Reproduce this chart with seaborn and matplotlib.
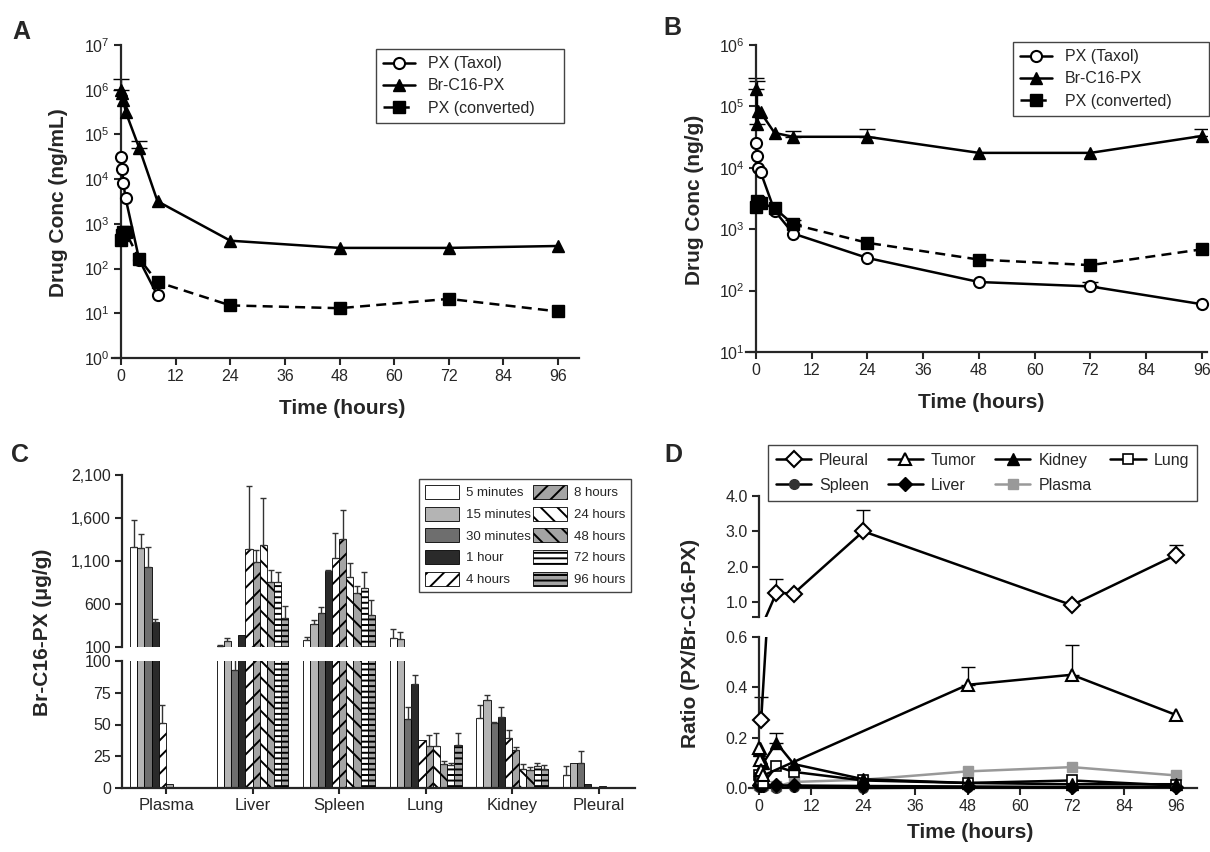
import matplotlib
matplotlib.use("Agg")
import numpy as np
import pandas as pd
import matplotlib.pyplot as plt
import seaborn as sns
from matplotlib.lines import Line2D
from matplotlib.patches import Patch
from matplotlib.container import BarContainer
from matplotlib.ticker import FixedLocator, NullLocator, FuncFormatter

# -------------------------------
# data
# -------------------------------
hours = [0.083, 0.25, 0.5, 1, 4, 8, 24, 48, 72, 96]

# A: plasma, ng/mL
a_taxol = [3.2e4, 1.7e4, 8.0e3, 3.7e3, 155, 25]          # first 6 time points
a_br = [1.0e6, 8.3e5, 6.0e5, 3.2e5, 4.9e4, 3.2e3, 420, 290, 290, 320]
a_conv = [430, 550, 650, 650, 165, 50, 15, 13, 21, 11]
a_br_err_t = [0.083, 4]
a_br_err_top = [1.7e6, 7.3e4]

# B: tumor, ng/g
b_taxol = [2.5e4, 1.55e4, 1.0e4, 8.5e3, 2.0e3, 850, 340, 138, 117, 60]
b_br = [1.9e5, 5.2e4, 8.3e4, 8.0e4, 3.7e4, 3.2e4, 3.2e4, 1.75e4, 1.75e4, 3.3e4]
b_conv = [2.3e3, 2.9e3, 2.8e3, 2.7e3, 2.2e3, 1.2e3, 600, 320, 260, 470]
b_br_err_t = [0.083, 0.25, 8, 24, 96]
b_br_err_top = [2.9e5, 2.6e5, 4.0e4, 4.3e4, 4.3e4]
b_conv_err_t = [8]
b_conv_err_top = [1.4e3]
b_taxol_err_t = [72]
b_taxol_err_top = [140]

# C: tissue Br-C16-PX, ug/g
organs = ["Plasma", "Liver", "Spleen", "Lung", "Kidney", "Pleural"]
timepoints = ["5 minutes", "15 minutes", "30 minutes", "1 hour", "4 hours",
              "8 hours", "24 hours", "48 hours", "72 hours", "96 hours"]
c_plasma = [1268, 1249, 1025, 386, 51, 3.2, 0, 0, 0, 0]
c_liver = [110, 166, 93, 243, 1241, 1094, 1288, 858, 858, 440]
c_spleen = [177, 371, 498, 978, 1133, 1357, 912, 727, 785, 475]
c_lung = [208, 197, 54, 82, 38, 33, 33, 19, 18, 34]
c_kidney = [55, 69, 51, 56, 39, 30, 15, 14, 17, 15]
c_pleural = [10, 20, 20, 3.5, 0, 1.5, 0, 0, 0, 0]
# top of the error bars (0 = none drawn)
c_plasma_err = [1580, 1415, 1268, 421, 65, 0, 0, 0, 0, 0]
c_liver_err = [125, 208, 105, 0, 1976, 1230, 1829, 1001, 967, 576]
c_spleen_err = [216, 409, 564, 997, 1423, 1694, 1079, 808, 967, 642]
c_lung_err = [313, 270, 64, 89, 0, 42, 43, 21.5, 20, 43]
c_kidney_err = [65, 73, 52, 64, 46, 32, 19, 16.7, 20, 18]
c_pleural_err = [17.5, 0, 28.8, 0, 0, 0, 0, 0, 0, 0]

# D: ratio PX / Br-C16-PX
d_pleural_t = [0.5, 4, 8, 24, 72, 96]
d_pleural = [0.27, 1.26, 1.24, 3.0, 0.91, 2.33]
d_pleural_err_t = [0.5, 4, 24, 96]
d_pleural_err_top = [0.36, 1.65, 3.6, 2.6]
d_tumor_t = [0.083, 0.25, 0.5, 1, 48, 72, 96]
d_tumor = [0.16, 0.11, 0.07, 0.05, 0.41, 0.45, 0.29]
d_tumor_err_t = [48, 72]
d_tumor_err_top = [0.48, 0.57]
d_kidney = [0.15, 0.16, 0.12, 0.10, 0.18, 0.095, 0.035, 0.02, 0.015, 0.015]
d_kidney_err_t = [4]
d_kidney_err_top = [0.22]
d_lung = [0.05, 0.04, 0.03, 0.02, 0.086, 0.064, 0.03, 0.02, 0.03, 0.01]
d_spleen = [0.005, 0.005, 0.003, 0.003, 0.0, 0.004, 0.0, 0.002, 0.002, 0.005]
d_liver = [0.01, 0.015, 0.01, 0.01, 0.01, 0.01, 0.008, 0.006, 0.004, 0.004]
d_plasma = [0.01, 0.01, 0.015, 0.01, 0.007, 0.024, 0.033, 0.066, 0.083, 0.05]

# -------------------------------
# style
# -------------------------------
sns.set_style("ticks")
plt.rcParams["font.family"] = ["Liberation Sans", "DejaVu Sans"]
plt.rcParams["mathtext.fontset"] = "custom"
plt.rcParams["mathtext.rm"] = "Liberation Sans"
plt.rcParams["mathtext.default"] = "regular"
plt.rcParams["hatch.linewidth"] = 1.4
plt.rcParams["hatch.color"] = "black"

W, H = 1210, 852
fig = plt.figure(figsize=(W / 100, H / 100), dpi=100)


def add_ax(l, t, r, b):
    return fig.add_axes([l / W, 1 - b / H, (r - l) / W, (b - t) / H])


def style(ax):
    for s in ["top", "right"]:
        ax.spines[s].set_visible(False)
    for s in ["left", "bottom"]:
        ax.spines[s].set_linewidth(1.6)
    ax.tick_params(width=1.5, length=5, labelsize=11.5, direction="out", pad=3)


def up_err(ax, x, y, top, cap=6, **kw):
    y = np.asarray(y, float)
    top = np.asarray(top, float)
    ax.errorbar(x, y, yerr=[np.zeros_like(y), top - y], fmt="none",
                ecolor=kw.get("color", "black"), elinewidth=1, capsize=cap,
                capthick=1, zorder=2)


def lookup(ts, vals, sel):
    d = dict(zip(ts, vals))
    return [d[t] for t in sel]


circle = dict(marker="o", markersize=8, markerfacecolor="white",
              markeredgecolor="black", markeredgewidth=1.5)
tri = dict(marker="^", markersize=9, markerfacecolor="black",
           markeredgecolor="black", markeredgewidth=1)
square = dict(marker="s", markersize=8, markerfacecolor="black",
              markeredgecolor="black", markeredgewidth=1)
dash = (0, (4, 2.5))


def pk_panel(ax, taxol, br, conv):
    sns.lineplot(x=hours[:len(taxol)], y=taxol, ax=ax, color="black", lw=1.8,
                 clip_on=False, zorder=3, **circle)
    sns.lineplot(x=hours, y=br, ax=ax, color="black", lw=1.8,
                 clip_on=False, zorder=3, **tri)
    sns.lineplot(x=hours, y=conv, ax=ax, color="black", lw=1.8,
                 linestyle=dash, clip_on=False, zorder=3, **square)


def pk_legend(ax, l, t, r, b):
    handles = [
        Line2D([], [], color="black", lw=1.8, **circle),
        Line2D([], [], color="black", lw=1.8, **tri),
        Line2D([], [], color="black", lw=1.8, linestyle=dash, **square),
    ]
    labels = ["PX (Taxol)", "Br-C16-PX", "PX (converted)"]
    leg = ax.legend(handles, labels, loc="upper left",
                    bbox_to_anchor=(l / W, 1 - b / H, (r - l) / W, (b - t) / H),
                    bbox_transform=fig.transFigure, mode="expand",
                    borderaxespad=0, fontsize=11.5, handlelength=2.0,
                    labelspacing=0.45, borderpad=0.45, fancybox=False,
                    framealpha=1)
    leg.get_frame().set_edgecolor("#444444")
    leg.get_frame().set_linewidth(1.0)


# -------------------------------
# Panel A
# -------------------------------
axA = add_ax(112, 45, 579, 358)
axA.set_yscale("log")
pk_panel(axA, a_taxol, a_br, a_conv)
up_err(axA, a_br_err_t, lookup(hours, a_br, a_br_err_t), a_br_err_top)
axA.set_xlim(-2, 100.6)
axA.set_ylim(1, 1e7)
axA.set_yticks([10.0 ** k for k in range(8)])
axA.yaxis.set_minor_locator(NullLocator())
axA.set_xticks(range(0, 97, 12))
axA.spines["left"].set_position(("data", 0))
style(axA)
axA.set_xlabel("")
axA.set_ylabel("")
pk_legend(axA, 376, 49, 564, 128)

# -------------------------------
# Panel B
# -------------------------------
axB = add_ax(746, 45, 1207, 352)
axB.set_yscale("log")
pk_panel(axB, b_taxol, b_br, b_conv)
up_err(axB, b_br_err_t, lookup(hours, b_br, b_br_err_t), b_br_err_top)
up_err(axB, b_conv_err_t, lookup(hours, b_conv, b_conv_err_t), b_conv_err_top)
up_err(axB, b_taxol_err_t, lookup(hours, b_taxol, b_taxol_err_t), b_taxol_err_top)
axB.set_xlim(-2.15, 97.1)
axB.set_ylim(10, 1e6)
axB.set_yticks([10.0 ** k for k in range(1, 7)])
axB.yaxis.set_minor_locator(NullLocator())
axB.set_xticks(range(0, 97, 12))
axB.spines["left"].set_position(("data", 0))
style(axB)
axB.set_xlabel("")
axB.set_ylabel("")
pk_legend(axB, 1013, 42, 1209, 121)

# -------------------------------
# Panel C: broken-axis grouped bars
# -------------------------------
c_vals = [c_plasma, c_liver, c_spleen, c_lung, c_kidney, c_pleural]
c_errs = [c_plasma_err, c_liver_err, c_spleen_err, c_lung_err, c_kidney_err, c_pleural_err]
rows = []
for org, vals in zip(organs, c_vals):
    for tp, v in zip(timepoints, vals):
        rows.append({"organ": org, "time": tp, "value": v})
dfC = pd.DataFrame(rows)

c_colors = ["white", "#b4b4b4", "#6e6e6e", "#2a2a2a", "white",
            "#a4a4a4", "white", "#a4a4a4", "white", "#a4a4a4"]
c_hatch = [None, None, None, None, "//", "//", "\\\\", "\\\\", "---", "---"]

axCu = add_ax(122, 475, 635, 647)
axCl = add_ax(122, 661, 635, 788)
for ax in (axCu, axCl):
    sns.barplot(data=dfC, x="organ", y="value", hue="time", order=organs,
                hue_order=timepoints, palette=c_colors, saturation=1,
                width=0.83, errorbar=None, edgecolor="black", linewidth=0.6,
                legend=False, ax=ax)
    for i, cont in enumerate(ax.containers):
        for p in cont.patches:
            if c_hatch[i]:
                p.set_hatch(c_hatch[i])
    ax.set_xlim(-0.509, 5.42)
    ax.set_xlabel("")
    ax.set_ylabel("")
    style(ax)

# error bars placed on whichever segment holds the bar top
bar_conts = [c for c in axCl.containers if isinstance(c, BarContainer)]
for i, cont in enumerate(bar_conts):
    for j, p in enumerate(cont.patches):
        top = c_errs[j][i]
        h = p.get_height()
        if top > h:
            x = p.get_x() + p.get_width() / 2
            ax = axCu if h > 100 else axCl
            up_err(ax, [x], [h], [top], cap=2, color="#333333")

axCu.set_ylim(100, 2100)
axCu.set_yticks([100, 600, 1100, 1600, 2100])
axCu.yaxis.set_major_formatter(FuncFormatter(lambda v, p: f"{int(v):,}"))
axCu.spines["bottom"].set_visible(False)
axCu.xaxis.set_visible(False)
axCl.set_ylim(0, 100)
axCl.set_yticks([0, 25, 50, 75, 100])
axCl.tick_params(axis="x", length=4, labelsize=12)

leg_handles = [Patch(facecolor=c, edgecolor="black", hatch=h, lw=0.6)
               for c, h in zip(c_colors, c_hatch)]
legC = axCu.legend(leg_handles, timepoints, loc="upper left", ncol=2,
                   bbox_to_anchor=(419 / W, 1 - 596 / H, 212 / W, 117 / H),
                   bbox_transform=fig.transFigure, mode="expand",
                   borderaxespad=0, fontsize=9.5, handlelength=2.6,
                   handleheight=1.25, labelspacing=0.55, borderpad=0.45,
                   columnspacing=0.6, handletextpad=0.5, fancybox=False,
                   framealpha=1)
legC.get_frame().set_edgecolor("#444444")
legC.get_frame().set_linewidth(1.0)

# -------------------------------
# Panel D: broken-axis ratio plot
# -------------------------------
axDu = add_ax(749, 496, 1197, 617)
axDl = add_ax(749, 637, 1197, 788)

diamond_o = dict(marker="D", markersize=8, markerfacecolor="white",
                 markeredgecolor="black", markeredgewidth=1.5)
tri_o = dict(marker="^", markersize=9, markerfacecolor="white",
             markeredgecolor="black", markeredgewidth=1.5)
tri_f = dict(marker="^", markersize=8, markerfacecolor="black",
             markeredgecolor="black", markeredgewidth=1)
sq_o = dict(marker="s", markersize=7, markerfacecolor="white",
            markeredgecolor="black", markeredgewidth=1.2)
circ_f = dict(marker="o", markersize=7, markerfacecolor="#333333",
              markeredgecolor="#333333", markeredgewidth=1)
dia_f = dict(marker="D", markersize=7, markerfacecolor="black",
             markeredgecolor="black", markeredgewidth=1)
sq_g = dict(marker="s", markersize=7, markerfacecolor="#999999",
            markeredgecolor="#999999", markeredgewidth=1)

for ax in (axDu, axDl):
    sns.lineplot(x=d_pleural_t, y=d_pleural, ax=ax, color="black", lw=1.8,
                 zorder=4, **diamond_o)

sns.lineplot(x=hours, y=d_plasma, ax=axDl, color="#999999", lw=1.8,
             clip_on=False, zorder=3, **sq_g)
sns.lineplot(x=hours, y=d_spleen, ax=axDl, color="black", lw=1.8,
             clip_on=False, zorder=3, **circ_f)
sns.lineplot(x=hours, y=d_liver, ax=axDl, color="black", lw=1.8,
             clip_on=False, zorder=3, **dia_f)
sns.lineplot(x=hours, y=d_lung, ax=axDl, color="black", lw=1.8,
             clip_on=False, zorder=3, **sq_o)
sns.lineplot(x=hours, y=d_kidney, ax=axDl, color="black", lw=1.8,
             clip_on=False, zorder=3, **tri_f)
sns.lineplot(x=d_tumor_t, y=d_tumor, ax=axDl, color="black", lw=1.8,
             clip_on=False, zorder=3, **tri_o)

for ax, lo, hi in ((axDu, 0.575, 4.0), (axDl, 0.0, 0.6)):
    sel = [t for t, v in zip(d_pleural_err_t, lookup(d_pleural_t, d_pleural, d_pleural_err_t))
           if lo <= v <= hi]
    if sel:
        up_err(ax, sel, lookup(d_pleural_t, d_pleural, sel),
               lookup(d_pleural_err_t, d_pleural_err_top, sel), cap=5)
up_err(axDl, d_tumor_err_t, lookup(d_tumor_t, d_tumor, d_tumor_err_t), d_tumor_err_top, cap=5)
up_err(axDl, d_kidney_err_t, lookup(hours, d_kidney, d_kidney_err_t), d_kidney_err_top, cap=5)

for ax in (axDu, axDl):
    ax.set_xlim(-2.3, 100.8)
    ax.spines["left"].set_position(("data", 0))
    ax.set_xlabel("")
    ax.set_ylabel("")
    style(ax)

axDu.set_ylim(0.575, 4.0)
axDu.set_yticks([1.0, 2.0, 3.0, 4.0])
axDu.yaxis.set_minor_locator(FixedLocator([0.575]))
axDu.tick_params(which="minor", length=5, width=1.5)
axDu.yaxis.set_major_formatter(FuncFormatter(lambda v, p: f"{v:.1f}"))
axDu.spines["bottom"].set_visible(False)
axDu.xaxis.set_visible(False)
axDl.set_ylim(0, 0.6)
axDl.set_yticks([0.0, 0.2, 0.4, 0.6])
axDl.yaxis.set_major_formatter(FuncFormatter(lambda v, p: f"{v:.1f}"))
axDl.set_xticks(range(0, 97, 12))

d_names = ["Pleural", "Spleen", "Tumor", "Liver", "Kidney", "Plasma", "Lung"]
d_styles = [("black", diamond_o), ("black", circ_f), ("black", tri_o),
            ("black", dia_f), ("black", tri_f), ("#999999", sq_g), ("black", sq_o)]
d_handles = [Line2D([], [], color=c, lw=1.8, **m) for c, m in d_styles]
legD = axDu.legend(d_handles, d_names, loc="upper left", ncol=4,
                   bbox_to_anchor=(768 / W, 1 - 505 / H, 429 / W, 60 / H),
                   bbox_transform=fig.transFigure, mode="expand",
                   borderaxespad=0, fontsize=11.5, handlelength=2.2,
                   labelspacing=0.6, borderpad=0.5, columnspacing=0.8,
                   handletextpad=0.5, fancybox=False, framealpha=1)
legD.get_frame().set_edgecolor("#444444")
legD.get_frame().set_linewidth(1.0)

# -------------------------------
# labels
# -------------------------------
for letter, x, y in (("A", 21, 32), ("B", 672, 28), ("C", 20, 455), ("D", 673, 455)):
    fig.text(x / W, 1 - y / H, letter, fontsize=18, fontweight="bold",
             ha="center", va="center")

bold = dict(fontsize=15, fontweight="bold", ha="center", va="center")
fig.text(58 / W, 1 - 203 / H, "Drug Conc (ng/mL)", rotation=90, **bold)
fig.text(694 / W, 1 - 200 / H, "Drug Conc (ng/g)", rotation=90, **bold)
fig.text(43 / W, 1 - 632 / H, "Br-C16-PX (\u03bcg/g)", rotation=90, **bold)
fig.text(691 / W, 1 - 643 / H, "Ratio (PX/Br-C16-PX)", rotation=90, **bold)
fig.text(342 / W, 1 - 408 / H, "Time (hours)", **bold)
fig.text(981 / W, 1 - 403 / H, "Time (hours)", **bold)
fig.text(970 / W, 1 - 833 / H, "Time (hours)", **bold)

fig.savefig("out.png", dpi=100)
